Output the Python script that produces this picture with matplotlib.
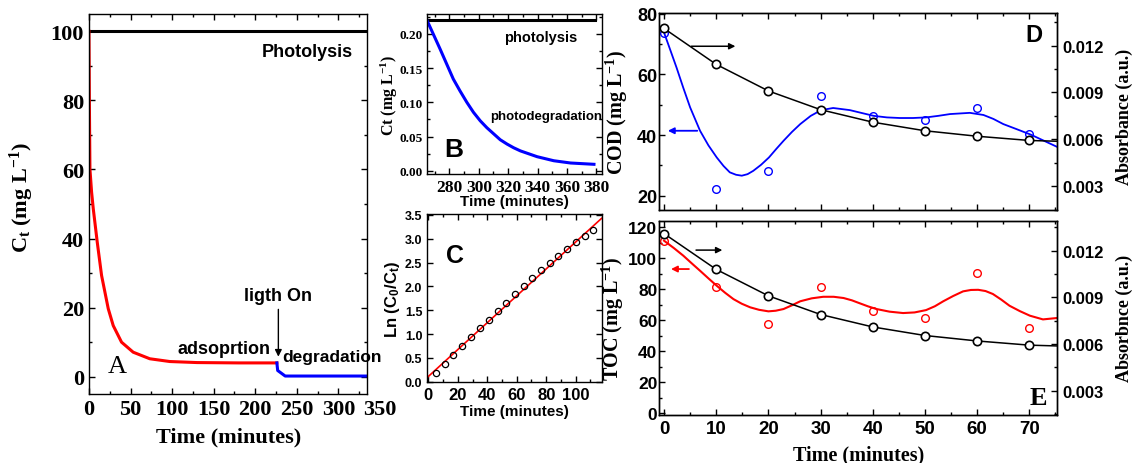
import matplotlib
matplotlib.use('Agg')
import matplotlib.pyplot as plt
from matplotlib.ticker import MultipleLocator, FormatStrFormatter

plt.rcParams['font.family'] = 'Liberation Sans'
plt.rcParams['font.weight'] = 'bold'
plt.rcParams['axes.labelweight'] = 'bold'
plt.rcParams['mathtext.default'] = 'regular'
plt.rcParams['axes.linewidth'] = 1.0

SANS = 'Liberation Sans'
SERIF = 'Liberation Serif'

# ---------------- data ----------------
# A : adsorption then degradation
a_photo_t = [0, 335]
a_photo_c = [100, 100]
a_time = [0, 0.5, 1.2, 3.2, 5.2, 10.0, 15.2, 23.2, 29.2, 39.2, 53.2, 73.2, 97.2, 130, 180, 226]
a_conc = [100, 80, 60.1, 53.4, 48.6, 38.9, 29.3, 19.7, 14.8, 10.0, 7.1, 5.2, 4.4, 4.1, 4.0, 4.0]
a_light_t = [226, 227, 236, 335]
a_light_c = [4.0, 1.8, 0.2, 0.2]

# B : photolysis vs photodegradation
b_photo_t = [265, 378.8]
b_photo_c = [0.221, 0.221]
b_time = [265, 273.7, 278.2, 282.7, 287.3, 291.9, 296.4, 301.0, 305.5, 310.1, 314.6,
          319.2, 323.7, 328.3, 339.7, 351.0, 362.4, 378.3]
b_conc = [0.219, 0.178, 0.156, 0.134, 0.1165, 0.100, 0.0854, 0.073, 0.0629, 0.054, 0.0453,
          0.039, 0.0336, 0.029, 0.0205, 0.0146, 0.0113, 0.0094]

# C : kinetics
c_time = [5.2, 11.3, 16.9, 23.0, 28.9, 35.0, 40.9, 47.0, 52.9, 58.7, 64.6, 70.7, 76.6,
          82.4, 88.3, 94.4, 100.1, 106.2, 112.0]
c_ln = [0.176, 0.365, 0.561, 0.750, 0.932, 1.121, 1.303, 1.485, 1.653, 1.835, 2.017, 2.178,
        2.347, 2.50, 2.647, 2.794, 2.928, 3.061, 3.18]
c_fit_t = [-0.7, 117.6]
c_fit_y = [0.092, 3.43]

# D / E : COD, TOC and absorbance
t_min = [0, 10, 20, 30, 40, 50, 60, 70]
absorb = [0.0131, 0.0108, 0.0091, 0.0079, 0.0071, 0.00655, 0.0062, 0.00593]
absorb_line_t = [0, 10, 20, 30, 40, 50, 60, 70, 75.3]
absorb_line = [0.0131, 0.0108, 0.0091, 0.0079, 0.0071, 0.00655, 0.0062, 0.00593, 0.00588]
cod = [73.75, 22.1, 28.2, 52.9, 46.3, 45.0, 48.9, 40.3]
cod_curve_t = [0, 1.2, 2.4, 3.7, 5.0, 6.9, 8.5, 10.1, 11.4, 12.6, 13.8, 14.9, 16.0, 17.1,
               18.6, 20.1, 21.5, 22.9, 24.5, 26.1, 28.1, 30.1, 32.4, 35.6, 38.0, 40.2, 42.7,
               45.2, 47.7, 50.2, 52.5, 54.8, 58.6, 61.2, 63.1, 65.0, 67.6, 70.3, 72.8, 75.3]
cod_curve = [73.75, 68.0, 62.2, 55.5, 49.1, 41.4, 36.6, 32.6, 29.8, 27.7, 26.9, 26.6, 27.1,
             28.2, 30.2, 32.6, 35.4, 38.1, 41.0, 43.6, 46.3, 48.2, 48.9, 48.2, 47.2, 46.3,
             45.8, 45.6, 45.6, 45.8, 46.3, 46.9, 47.3, 46.6, 45.3, 43.6, 41.9, 40.1, 38.1, 36.1]
toc = [111.4, 81.3, 57.6, 81.3, 65.8, 61.5, 90.3, 55.2]
toc_curve_t = [0, 1.9, 3.7, 5.3, 6.9, 8.5, 10.1, 11.7, 13.3, 14.9, 16.5, 18.2, 20.0, 21.4,
               22.9, 24.5, 26.1, 28.3, 30.5, 32.5, 34.4, 36.0, 37.5, 39.1, 40.7, 43.2, 45.8,
               48.0, 50.2, 51.9, 53.5, 55.4, 57.3, 58.8, 60.2, 61.6, 63.0, 64.6, 66.2, 68.2,
               70.1, 72.6, 75.3]
toc_curve = [111.4, 106.6, 101.7, 96.8, 92.0, 87.1, 82.3, 77.8, 73.7, 70.7, 68.4, 66.8, 65.8,
             66.2, 67.3, 69.7, 72.3, 74.2, 75.2, 75.2, 74.4, 72.9, 71.0, 69.0, 67.3, 65.6,
             64.7, 65.1, 66.6, 69.1, 72.3, 75.7, 78.7, 79.6, 79.7, 78.9, 77.0, 73.4, 69.4,
             65.9, 63.0, 60.6, 61.5]


def ticks_in(ax, size, family, right=True, top=True):
    ax.tick_params(which='both', direction='in', top=top, right=right,
                   labelsize=size, labelfontfamily=family, width=1.0)
    ax.tick_params(which='major', length=4.5)
    ax.tick_params(which='minor', length=2.5)


fig = plt.figure(figsize=(11.36, 4.64), dpi=100)

# ---------------- A ----------------
axA = fig.add_axes([0.0783, 0.1487, 0.2452, 0.819])
axA.plot(a_photo_t, a_photo_c, color='black', lw=2.2)
axA.plot(a_time, a_conc, color='red', lw=2.2)
axA.plot(a_light_t, a_light_c, color='blue', lw=2.2)
axA.set_xlim(0, 335)
axA.set_ylim(-5, 105)
axA.set_xticks([0, 50, 100, 150, 200, 250, 300])
axA.xaxis.set_minor_locator(MultipleLocator(25))
axA.set_yticks([0, 20, 40, 60, 80, 100])
axA.yaxis.set_minor_locator(MultipleLocator(10))
ticks_in(axA, 16, SERIF)
axA.text(350, -0.013, '350', transform=axA.get_xaxis_transform(), ha='center', va='top',
         fontsize=16, fontfamily=SERIF, clip_on=False)
axA.set_xlabel('Time (minutes)', fontfamily=SERIF, fontsize=16)
axA.xaxis.set_label_coords(0.5, -0.085)
axA.set_ylabel('C$_t$ (mg L$^{-1}$)', fontfamily=SERIF, fontsize=16)
axA.yaxis.set_label_coords(-0.19, 0.52)
axA.text(263, 94, 'Photolysis', ha='center', va='center', fontsize=13, fontfamily=SANS)
axA.text(227, 23.5, 'ligth On', ha='center', va='center', fontsize=13, fontfamily=SANS)
axA.annotate('', xy=(227.8, 5.0), xytext=(227.8, 20.3),
             arrowprops=dict(arrowstyle='-|>', color='black', lw=1.0, mutation_scale=10))
axA.text(163, 8.1, 'adsoprtion', ha='center', va='center', fontsize=13, fontfamily=SANS)
axA.text(233, 5.8, 'degradation', ha='left', va='center', fontsize=12.5, fontfamily=SANS,
         clip_on=False)
axA.text(34, 3.2, 'A', ha='center', va='center', fontsize=19, fontfamily=SERIF,
         fontweight='normal')

# ---------------- B ----------------
axB = fig.add_axes([0.3761, 0.6228, 0.1535, 0.3448])
axB.plot(b_photo_t, b_photo_c, color='black', lw=2.2)
axB.plot(b_time, b_conc, color='blue', lw=2.2)
axB.set_xlim(265, 383.5)
axB.set_ylim(-0.0048, 0.229)
axB.set_xticks([280, 300, 320, 340, 360, 380])
axB.xaxis.set_minor_locator(MultipleLocator(10))
axB.set_yticks([0, 0.05, 0.10, 0.15, 0.20])
axB.yaxis.set_minor_locator(MultipleLocator(0.025))
axB.yaxis.set_major_formatter(FormatStrFormatter('%.2f'))
ticks_in(axB, 9.5, SERIF)
axB.tick_params(axis='x', labelsize=12.5)
axB.set_xlabel('Time (minutes)', fontfamily=SANS, fontsize=11)
axB.xaxis.set_label_coords(0.5, -0.125)
axB.set_ylabel('Ct (mg L$^{-1}$)', fontfamily=SERIF, fontsize=11.5)
axB.yaxis.set_label_coords(-0.155, 0.5)
axB.text(342.4, 0.195, 'photolysis', ha='center', va='center', fontsize=10.5, fontfamily=SANS)
axB.text(307.8, 0.0795, 'photodegradation', ha='left', va='center', fontsize=9.5,
         fontfamily=SANS, clip_on=False)
axB.text(282.8, 0.0317, 'B', ha='center', va='center', fontsize=19, fontfamily=SANS)

# ---------------- C ----------------
axC = fig.add_axes([0.3761, 0.1739, 0.1535, 0.3627])
axC.plot(c_fit_t, c_fit_y, color='red', lw=1.2)
axC.plot(c_time, c_ln, 'o', ms=4.5, mfc='none', mec='black', mew=0.9)
axC.set_xlim(-0.7, 117.6)
axC.set_ylim(-0.01, 3.52)
axC.set_xticks([0, 20, 40, 60, 80, 100])
axC.xaxis.set_minor_locator(MultipleLocator(10))
axC.set_yticks([0, 0.5, 1.0, 1.5, 2.0, 2.5, 3.0, 3.5])
axC.yaxis.set_major_formatter(FormatStrFormatter('%.1f'))
ticks_in(axC, 9, SANS)
axC.tick_params(axis='x', labelsize=12)
axC.set_xlabel('Time (minutes)', fontfamily=SANS, fontsize=11)
axC.xaxis.set_label_coords(0.5, -0.127)
axC.set_ylabel('Ln (C$_0$/C$_t$)', fontfamily=SANS, fontsize=12)
axC.yaxis.set_label_coords(-0.145, 0.5)
axC.text(18.1, 2.66, 'C', ha='center', va='center', fontsize=18, fontfamily=SANS)

# ---------------- D ----------------
axD = fig.add_axes([0.5804, 0.5453, 0.3501, 0.4239])
axD.plot(cod_curve_t, cod_curve, color='blue', lw=1.3)
axD.plot(t_min, cod, 'o', ms=5.5, mfc='none', mec='blue', mew=1.0, zorder=3)
axD.set_xlim(-0.9, 75.3)
axD.set_ylim(15.3, 80.1)
axD.set_xticks(t_min)
axD.xaxis.set_minor_locator(MultipleLocator(5))
axD.set_yticks([20, 40, 60, 80])
axD.yaxis.set_minor_locator(MultipleLocator(10))
ticks_in(axD, 13, SANS, right=False)
axD.tick_params(axis='y', pad=1.5)
axD.tick_params(labelbottom=False)
axD.set_ylabel('COD (mg L$^{-1}$)', fontfamily=SERIF, fontsize=14.5)
axD.yaxis.set_label_coords(-0.075, 0.5)
axD.annotate('', xy=(0.2, 41.4), xytext=(6.9, 41.4),
             arrowprops=dict(arrowstyle='-|>', color='blue', lw=1.3, mutation_scale=9))
axD.text(70.8, 73.2, 'D', ha='center', va='center', fontsize=17, fontfamily=SANS)

axD2 = axD.twinx()
axD2.plot(absorb_line_t, absorb_line, color='black', lw=1.1)
axD2.plot(t_min, absorb, 'o', ms=6, mfc='white', mec='black', mew=1.2, zorder=3)
axD2.set_ylim(0.00148, 0.01407)
axD2.set_yticks([0.003, 0.006, 0.009, 0.012])
axD2.yaxis.set_minor_locator(MultipleLocator(0.0015))
axD2.yaxis.set_major_formatter(FormatStrFormatter('%.3f'))
ticks_in(axD2, 12, SANS, top=False)
axD2.set_ylabel('Absorbance (a.u.)', fontfamily=SERIF, fontsize=13)
axD2.yaxis.set_label_coords(1.148, 0.48)
axD2.annotate('', xy=(14.2, 0.01196), xytext=(4.7, 0.01196),
              arrowprops=dict(arrowstyle='-|>', color='black', lw=1.1, mutation_scale=9))

# ---------------- E ----------------
axE = fig.add_axes([0.5804, 0.1041, 0.3501, 0.4181])
axE.plot(toc_curve_t, toc_curve, color='red', lw=1.5)
axE.plot(t_min, toc, 'o', ms=5.5, mfc='none', mec='red', mew=1.0, zorder=3)
axE.set_xlim(-0.9, 75.3)
axE.set_ylim(-0.9, 124.3)
axE.set_xticks(t_min)
axE.xaxis.set_minor_locator(MultipleLocator(5))
axE.set_yticks([0, 20, 40, 60, 80, 100, 120])
axE.yaxis.set_minor_locator(MultipleLocator(10))
ticks_in(axE, 12.5, SANS, right=False)
axE.tick_params(axis='y', pad=1.5)
axE.tick_params(axis='x', labelsize=13.5)
axE.set_xlabel('Time (minutes)', fontfamily=SERIF, fontsize=14.5)
axE.xaxis.set_label_coords(0.5, -0.155)
axE.set_ylabel('TOC (mg L$^{-1}$)', fontfamily=SERIF, fontsize=14.5)
axE.yaxis.set_label_coords(-0.085, 0.5)
axE.annotate('', xy=(0.8, 93.1), xytext=(5.3, 93.1),
             arrowprops=dict(arrowstyle='-|>', color='red', lw=1.3, mutation_scale=9))
axE.text(71.7, 10.3, 'E', ha='center', va='center', fontsize=19, fontfamily=SERIF)

axE2 = axE.twinx()
axE2.plot(absorb_line_t, absorb_line, color='black', lw=1.1)
axE2.plot(t_min, absorb, 'o', ms=6, mfc='white', mec='black', mew=1.2, zorder=3)
axE2.set_ylim(0.00146, 0.01393)
axE2.set_yticks([0.003, 0.006, 0.009, 0.012])
axE2.yaxis.set_minor_locator(MultipleLocator(0.0015))
axE2.yaxis.set_major_formatter(FormatStrFormatter('%.3f'))
ticks_in(axE2, 12, SANS, top=False)
axE2.set_ylabel('Absorbnce (a.u.)', fontfamily=SERIF, fontsize=13)
axE2.yaxis.set_label_coords(1.148, 0.5)
axE2.annotate('', xy=(11.7, 0.01204), xytext=(5.6, 0.01204),
              arrowprops=dict(arrowstyle='-|>', color='black', lw=1.1, mutation_scale=9))

fig.savefig('out.png', dpi=100)
